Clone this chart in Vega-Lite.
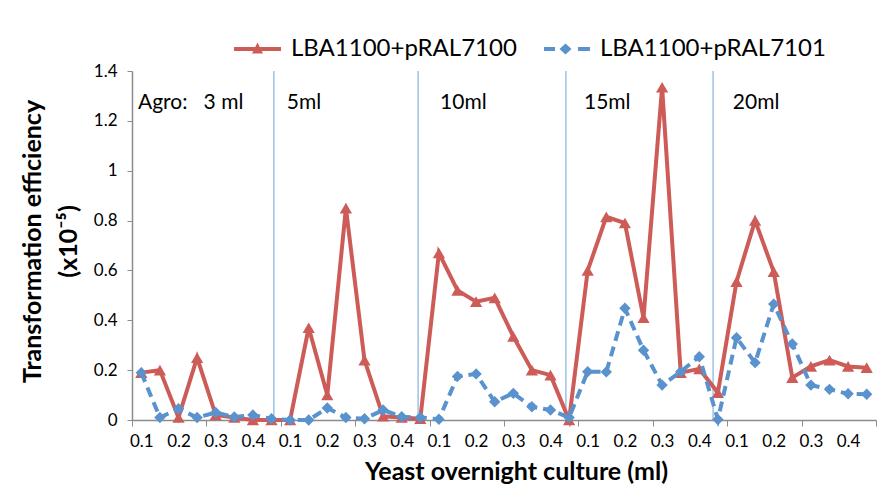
{
  "$schema": "https://vega.github.io/schema/vega-lite/v6.json",
  "width": 744,
  "height": 349,
  "autosize": "none",
  "padding": {"left": 132, "top": 71, "right": 3, "bottom": 80},
  "background": "white",
  "config": {
    "view": {"stroke": null},
    "font": "Lato",
    "axis": {"labelFont": "Lato", "titleFont": "Lato", "labelColor": "black", "titleColor": "black", "domainColor": "#8c8c8c", "tickColor": "#8c8c8c", "grid": false},
    "legend": {"labelFont": "Lato", "labelColor": "black"}
  },
  "datasets": {
    "pts": [
      {"i": 0, "s": "LBA1100+pRAL7100", "v": 0.19}, {"i": 1, "s": "LBA1100+pRAL7100", "v": 0.20},
      {"i": 2, "s": "LBA1100+pRAL7100", "v": 0.01}, {"i": 3, "s": "LBA1100+pRAL7100", "v": 0.25},
      {"i": 4, "s": "LBA1100+pRAL7100", "v": 0.02}, {"i": 5, "s": "LBA1100+pRAL7100", "v": 0.01},
      {"i": 6, "s": "LBA1100+pRAL7100", "v": 0.0}, {"i": 7, "s": "LBA1100+pRAL7100", "v": 0.0},
      {"i": 8, "s": "LBA1100+pRAL7100", "v": 0.0}, {"i": 9, "s": "LBA1100+pRAL7100", "v": 0.37},
      {"i": 10, "s": "LBA1100+pRAL7100", "v": 0.10}, {"i": 11, "s": "LBA1100+pRAL7100", "v": 0.85},
      {"i": 12, "s": "LBA1100+pRAL7100", "v": 0.24}, {"i": 13, "s": "LBA1100+pRAL7100", "v": 0.015},
      {"i": 14, "s": "LBA1100+pRAL7100", "v": 0.01}, {"i": 15, "s": "LBA1100+pRAL7100", "v": 0.005},
      {"i": 16, "s": "LBA1100+pRAL7100", "v": 0.67}, {"i": 17, "s": "LBA1100+pRAL7100", "v": 0.52},
      {"i": 18, "s": "LBA1100+pRAL7100", "v": 0.475}, {"i": 19, "s": "LBA1100+pRAL7100", "v": 0.49},
      {"i": 20, "s": "LBA1100+pRAL7100", "v": 0.335}, {"i": 21, "s": "LBA1100+pRAL7100", "v": 0.20},
      {"i": 22, "s": "LBA1100+pRAL7100", "v": 0.18}, {"i": 23, "s": "LBA1100+pRAL7100", "v": 0.0},
      {"i": 24, "s": "LBA1100+pRAL7100", "v": 0.60}, {"i": 25, "s": "LBA1100+pRAL7100", "v": 0.815},
      {"i": 26, "s": "LBA1100+pRAL7100", "v": 0.79}, {"i": 27, "s": "LBA1100+pRAL7100", "v": 0.41},
      {"i": 28, "s": "LBA1100+pRAL7100", "v": 1.335}, {"i": 29, "s": "LBA1100+pRAL7100", "v": 0.19},
      {"i": 30, "s": "LBA1100+pRAL7100", "v": 0.205}, {"i": 31, "s": "LBA1100+pRAL7100", "v": 0.11},
      {"i": 32, "s": "LBA1100+pRAL7100", "v": 0.555}, {"i": 33, "s": "LBA1100+pRAL7100", "v": 0.80},
      {"i": 34, "s": "LBA1100+pRAL7100", "v": 0.595}, {"i": 35, "s": "LBA1100+pRAL7100", "v": 0.17},
      {"i": 36, "s": "LBA1100+pRAL7100", "v": 0.215}, {"i": 37, "s": "LBA1100+pRAL7100", "v": 0.24},
      {"i": 38, "s": "LBA1100+pRAL7100", "v": 0.215}, {"i": 39, "s": "LBA1100+pRAL7100", "v": 0.21},
      {"i": 0, "s": "LBA1100+pRAL7101", "v": 0.19}, {"i": 1, "s": "LBA1100+pRAL7101", "v": 0.01},
      {"i": 2, "s": "LBA1100+pRAL7101", "v": 0.045}, {"i": 3, "s": "LBA1100+pRAL7101", "v": 0.01},
      {"i": 4, "s": "LBA1100+pRAL7101", "v": 0.03}, {"i": 5, "s": "LBA1100+pRAL7101", "v": 0.012},
      {"i": 6, "s": "LBA1100+pRAL7101", "v": 0.02}, {"i": 7, "s": "LBA1100+pRAL7101", "v": 0.005},
      {"i": 8, "s": "LBA1100+pRAL7101", "v": 0.0}, {"i": 9, "s": "LBA1100+pRAL7101", "v": 0.0},
      {"i": 10, "s": "LBA1100+pRAL7101", "v": 0.048}, {"i": 11, "s": "LBA1100+pRAL7101", "v": 0.01},
      {"i": 12, "s": "LBA1100+pRAL7101", "v": 0.005}, {"i": 13, "s": "LBA1100+pRAL7101", "v": 0.04},
      {"i": 14, "s": "LBA1100+pRAL7101", "v": 0.013}, {"i": 15, "s": "LBA1100+pRAL7101", "v": 0.01},
      {"i": 16, "s": "LBA1100+pRAL7101", "v": 0.003}, {"i": 17, "s": "LBA1100+pRAL7101", "v": 0.175},
      {"i": 18, "s": "LBA1100+pRAL7101", "v": 0.185}, {"i": 19, "s": "LBA1100+pRAL7101", "v": 0.073},
      {"i": 20, "s": "LBA1100+pRAL7101", "v": 0.107}, {"i": 21, "s": "LBA1100+pRAL7101", "v": 0.053},
      {"i": 22, "s": "LBA1100+pRAL7101", "v": 0.04}, {"i": 23, "s": "LBA1100+pRAL7101", "v": 0.01},
      {"i": 24, "s": "LBA1100+pRAL7101", "v": 0.194}, {"i": 25, "s": "LBA1100+pRAL7101", "v": 0.193},
      {"i": 26, "s": "LBA1100+pRAL7101", "v": 0.448}, {"i": 27, "s": "LBA1100+pRAL7101", "v": 0.28},
      {"i": 28, "s": "LBA1100+pRAL7101", "v": 0.14}, {"i": 29, "s": "LBA1100+pRAL7101", "v": 0.194},
      {"i": 30, "s": "LBA1100+pRAL7101", "v": 0.254}, {"i": 31, "s": "LBA1100+pRAL7101", "v": 0.002},
      {"i": 32, "s": "LBA1100+pRAL7101", "v": 0.33}, {"i": 33, "s": "LBA1100+pRAL7101", "v": 0.23},
      {"i": 34, "s": "LBA1100+pRAL7101", "v": 0.465}, {"i": 35, "s": "LBA1100+pRAL7101", "v": 0.305},
      {"i": 36, "s": "LBA1100+pRAL7101", "v": 0.14}, {"i": 37, "s": "LBA1100+pRAL7101", "v": 0.123},
      {"i": 38, "s": "LBA1100+pRAL7101", "v": 0.105}, {"i": 39, "s": "LBA1100+pRAL7101", "v": 0.103}
    ],
    "seps": [{"i": 7.13}, {"i": 14.88}, {"i": 22.83}, {"i": 30.74}],
    "notes": [
      {"i": -0.18, "v": 1.27, "t": "Agro:\u00a0\u00a0 3 ml"},
      {"i": 7.82, "v": 1.27, "t": "5ml"},
      {"i": 16.06, "v": 1.27, "t": "10ml"},
      {"i": 23.8, "v": 1.27, "t": "15ml"},
      {"i": 31.8, "v": 1.27, "t": "20ml"}
    ]
  },
  "resolve": {"axis": {"x": "independent"}},
  "layer": [
    {
      "data": {"name": "seps"},
      "mark": {"type": "rule", "color": "#6FA3D8", "strokeWidth": 1},
      "encoding": {
        "x": {"field": "i", "type": "quantitative", "scale": {"domain": [-0.5, 39.5], "nice": false, "zero": false},
              "axis": {"orient": "bottom", "values": [-0.5, 3.5, 7.5, 11.5, 15.5, 19.5, 23.5, 27.5, 31.5, 35.5, 39.5], "labels": false, "domain": false, "ticks": true, "tickSize": 6, "title": null, "grid": false}},
        "y": {"datum": 1.4, "type": "quantitative", "scale": {"domain": [0, 1.4], "nice": false},
              "axis": {"values": [0, 0.2, 0.4, 0.6, 0.8, 1, 1.2, 1.4], "format": "~g", "labelFontSize": 17, "labelPadding": 10, "tickSize": 5, "domainWidth": 1.5,
                       "title": ["Transformation efficiency", "(x10\u207b\u2075)"], "titleFontSize": 25, "titleFontWeight": "bold", "titleLineHeight": 36,
                       "titleAngle": -90, "titleX": -100, "titleY": 170, "titleAlign": "center", "titleBaseline": "middle"}},
        "y2": {"datum": 0}
      }
    },
    {
      "data": {"name": "pts"},
      "transform": [{"filter": "datum.s === 'LBA1100+pRAL7100'"}],
      "mark": {"type": "line", "color": "#CD5C59", "strokeWidth": 4},
      "encoding": {
        "x": {"field": "i", "type": "quantitative",
              "axis": {"orient": "bottom", "values": [0, 2, 4, 6, 8, 10, 12, 14, 16, 18, 20, 22, 24, 26, 28, 30, 32, 34, 36, 38],
                       "labelExpr": "['0.1','0.2','0.3','0.4'][(datum.value/2)%4]", "ticks": false, "labelPadding": 13, "labelFontSize": 17,
                       "title": "Yeast overnight culture (ml)", "titleFontSize": 25, "titleFontWeight": "bold", "titleX": 384, "titleY": 51, "titleBaseline": "middle", "domainWidth": 1.5}},
        "y": {"field": "v", "type": "quantitative"}
      }
    },
    {
      "data": {"name": "pts"},
      "transform": [{"filter": "datum.s === 'LBA1100+pRAL7100'"}],
      "mark": {"type": "point", "shape": "triangle-up", "filled": true, "color": "#CD5C59", "size": 150, "opacity": 1},
      "encoding": {
        "x": {"field": "i", "type": "quantitative", "axis": null},
        "y": {"field": "v", "type": "quantitative"}
      }
    },
    {
      "data": {"name": "pts"},
      "transform": [{"filter": "datum.s === 'LBA1100+pRAL7101'"}],
      "mark": {"type": "line", "color": "#5A92CD", "strokeWidth": 4, "strokeDash": [10, 6]},
      "encoding": {
        "x": {"field": "i", "type": "quantitative", "axis": null},
        "y": {"field": "v", "type": "quantitative"}
      }
    },
    {
      "data": {"name": "pts"},
      "transform": [{"filter": "datum.s === 'LBA1100+pRAL7101'"}],
      "mark": {"type": "point", "shape": "diamond", "filled": true, "color": "#5A92CD", "size": 130, "opacity": 1},
      "encoding": {
        "x": {"field": "i", "type": "quantitative", "axis": null},
        "y": {"field": "v", "type": "quantitative"}
      }
    },
    {
      "data": {"name": "notes"},
      "mark": {"type": "text", "align": "left", "baseline": "middle", "fontSize": 21, "font": "Lato", "color": "black"},
      "encoding": {
        "x": {"field": "i", "type": "quantitative", "axis": null},
        "y": {"field": "v", "type": "quantitative"},
        "text": {"field": "t"}
      }
    },
    {
      "data": {"name": "pts"},
      "mark": {"type": "point", "filled": true, "opacity": 0, "size": 100},
      "encoding": {
        "x": {"field": "i", "type": "quantitative", "axis": null},
        "y": {"field": "v", "type": "quantitative"},
        "color": {"field": "s", "type": "nominal", "scale": {"domain": ["LBA1100+pRAL7100", "LBA1100+pRAL7101"], "range": ["#CD5C59", "#5A92CD"]},
                  "legend": {"title": null, "orient": "none", "legendX": 132, "legendY": -34, "direction": "horizontal", "symbolOpacity": 1, "symbolSize": 100, "symbolStrokeWidth": 0, "labelFontSize": 24, "labelLimit": 0, "labelOffset": 3, "columnPadding": 27, "padding": 0}},
        "shape": {"field": "s", "type": "nominal", "scale": {"domain": ["LBA1100+pRAL7100", "LBA1100+pRAL7101"],
                  "range": ["M-8.4,-0.4H1V0.4H-8.4Z M-3.7,-1.3L-2.6,0.9H-4.8Z", "M-8.2,-0.4H-6V0.4H-8.2Z M-1.4,-0.4H1V0.4H-1.4Z M-3.9,-1.1L-2.7,0L-3.9,1.1L-5.1,0Z"]},
                  "legend": {"title": null, "orient": "none", "legendX": 132, "legendY": -34, "direction": "horizontal", "symbolOpacity": 1, "symbolSize": 100, "symbolStrokeWidth": 0, "labelFontSize": 24, "labelLimit": 0, "labelOffset": 3, "columnPadding": 27, "padding": 0}}
      }
    }
  ]
}
